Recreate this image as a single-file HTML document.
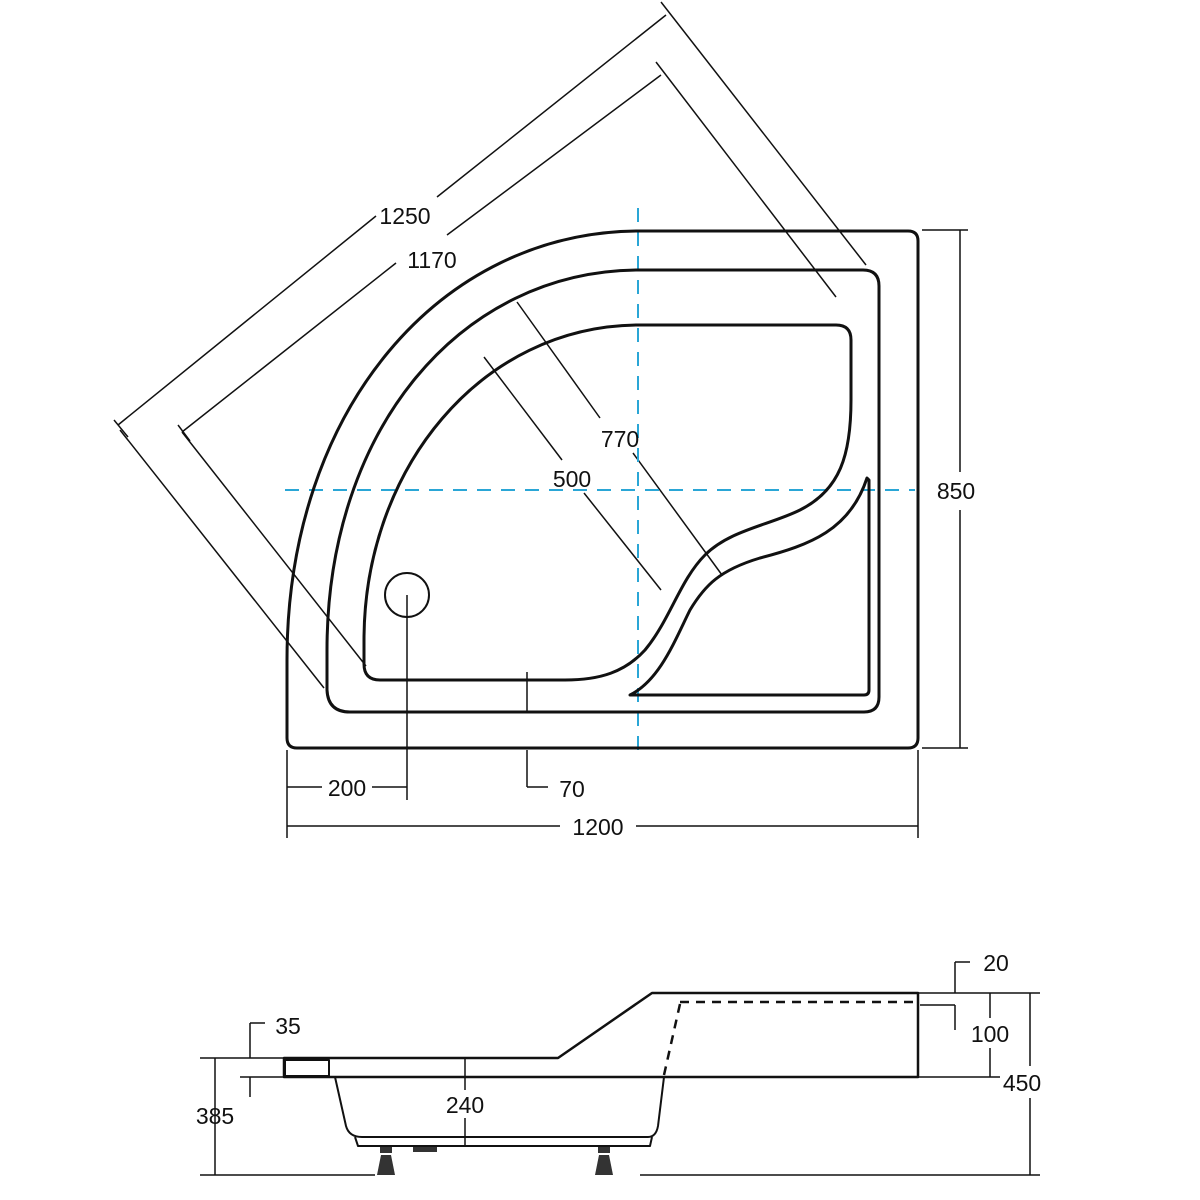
<!DOCTYPE html>
<html><head><meta charset="utf-8"><style>
html,body{margin:0;padding:0;background:#fff}
svg{display:block}
text{font-family:"Liberation Sans",Arial,sans-serif;font-size:23px;fill:#111}
</style></head><body>
<svg width="1200" height="1200" viewBox="0 0 1200 1200" xmlns="http://www.w3.org/2000/svg">
<g fill="none" stroke="#111" stroke-width="1.5">
<!-- 1250 dims -->
<line x1="118" y1="425" x2="376" y2="216"/>
<line x1="437" y1="197" x2="666" y2="15"/>
<line x1="661" y1="2" x2="866" y2="265"/>
<line x1="120" y1="430" x2="324" y2="688"/>
<line x1="114" y1="420" x2="128" y2="437"/>
<!-- 1170 -->
<line x1="182" y1="432" x2="396" y2="263"/>
<line x1="447" y1="235" x2="661" y2="75"/>
<line x1="656" y1="62" x2="836" y2="297"/>
<line x1="182" y1="432" x2="366" y2="666"/>
<line x1="178" y1="425" x2="190" y2="441"/>
<!-- 770 -->
<line x1="517" y1="302" x2="600" y2="418"/>
<line x1="633" y1="453" x2="722" y2="575"/>
<!-- 500 -->
<line x1="484" y1="357" x2="562" y2="460"/>
<line x1="584" y1="493" x2="661" y2="590"/>
<!-- 850 -->
<line x1="922" y1="230" x2="968" y2="230"/>
<line x1="922" y1="748" x2="968" y2="748"/>
<line x1="960" y1="230" x2="960" y2="472"/>
<line x1="960" y1="510" x2="960" y2="748"/>
<!-- 1200 -->
<line x1="287" y1="750" x2="287" y2="838"/>
<line x1="918" y1="750" x2="918" y2="838"/>
<line x1="287" y1="826" x2="560" y2="826"/>
<line x1="636" y1="826" x2="918" y2="826"/>
<!-- 200 -->
<line x1="287" y1="787" x2="322" y2="787"/>
<line x1="372" y1="787" x2="407" y2="787"/>
<line x1="407" y1="595" x2="407" y2="800"/>
<!-- 70 -->
<line x1="527" y1="672" x2="527" y2="712"/>
<line x1="527" y1="750" x2="527" y2="787"/>
<line x1="527" y1="787" x2="548" y2="787"/>
</g>
<!-- blue dashed -->
<g stroke="#2aa6d6" stroke-width="2" stroke-dasharray="14,10" fill="none">
<line x1="285" y1="490" x2="915" y2="490"/>
<line x1="638" y1="208" x2="638" y2="758"/>
</g>
<g fill="none" stroke="#111" stroke-width="3" stroke-linejoin="round">
<!-- outer -->
<path d="M640,231 L908,231 Q918,231 918,241 L918,738 Q918,748 908,748 L297,748 Q287,748 287,738 L287,660 C287,410 440,231 640,231 Z"/>
<!-- rim -->
<path d="M640,270 L863,270 Q879,270 879,286 L879,697 Q879,712 864,712 L350,712 Q328,712 327,690 L327,650 C327,430 460,270 640,270 Z"/>
<!-- basin -->
<path d="M640,325 L836,325 Q851,325 851,340 L851,400 C851,455 840,490 800,510 C770,525 730,530 705,555 C680,580 670,620 645,650 C625,672 600,680 565,680 L380,680 Q364,680 364,664 L364,640 C364,470 480,325 640,325 Z"/>
<!-- seat -->
<path d="M867,478 L869,480 L869,690 Q869,695 864,695 L630,695 C660,680 675,640 690,610 C705,585 720,570 760,558 C810,545 850,530 867,478 Z"/>
</g>
<circle cx="407" cy="595" r="22" fill="none" stroke="#111" stroke-width="2"/>
<text x="405" y="224" text-anchor="middle">1250</text>
<text x="432" y="268" text-anchor="middle">1170</text>
<text x="620" y="447" text-anchor="middle">770</text>
<text x="572" y="487" text-anchor="middle">500</text>
<text x="956" y="499" text-anchor="middle">850</text>
<text x="598" y="835" text-anchor="middle">1200</text>
<text x="347" y="796" text-anchor="middle">200</text>
<text x="572" y="797" text-anchor="middle">70</text>

<!-- side view -->
<g fill="none" stroke="#111" stroke-width="1.5">
<line x1="200" y1="1058" x2="284" y2="1058"/>
<line x1="240" y1="1077" x2="284" y2="1077"/>
<line x1="215" y1="1058" x2="215" y2="1175"/>
<line x1="250" y1="1058" x2="250" y2="1023"/>
<line x1="250" y1="1023" x2="265" y2="1023"/>
<line x1="250" y1="1077" x2="250" y2="1097"/>
<line x1="465" y1="1058" x2="465" y2="1090"/>
<line x1="465" y1="1118" x2="465" y2="1145"/>
<line x1="200" y1="1175" x2="375" y2="1175"/>
<line x1="640" y1="1175" x2="1040" y2="1175"/>
<line x1="918" y1="993" x2="1040" y2="993"/>
<line x1="918" y1="1077" x2="1000" y2="1077"/>
<line x1="955" y1="993" x2="955" y2="962"/>
<line x1="955" y1="962" x2="970" y2="962"/>
<line x1="920" y1="1005" x2="955" y2="1005"/>
<line x1="955" y1="1005" x2="955" y2="1030"/>
<line x1="990" y1="993" x2="990" y2="1018"/>
<line x1="990" y1="1048" x2="990" y2="1077"/>
<line x1="1030" y1="993" x2="1030" y2="1066"/>
<line x1="1030" y1="1098" x2="1030" y2="1175"/>
</g>
<g fill="none" stroke="#111" stroke-width="2.5" stroke-linejoin="round">
<path d="M284,1058 L558,1058 L652,993 L918,993 L918,1077 L284,1077 Z"/>
<rect x="285" y="1060" width="44" height="16" stroke-width="2"/>
<path d="M335,1077 L346,1126 Q349,1137 362,1137 L648,1137 Q656,1137 658,1126 L664,1077" stroke-width="2"/>
<path d="M355,1137 L358,1146 L650,1146 L652,1137" stroke-width="2"/>
</g>
<path d="M680,1002 L915,1002" stroke="#111" stroke-width="2.5" stroke-dasharray="9,7"/>
<path d="M680,1004 L664,1075" stroke="#111" stroke-width="2.5" stroke-dasharray="9,7"/>
<g fill="#333">
<rect x="380" y="1147" width="12" height="6"/>
<path d="M381,1155 L391,1155 L395,1175 L377,1175 Z"/>
<rect x="598" y="1147" width="12" height="6"/>
<path d="M599,1155 L609,1155 L613,1175 L595,1175 Z"/>
<rect x="413" y="1147" width="24" height="5"/>
</g>
<text x="288" y="1034" text-anchor="middle">35</text>
<text x="215" y="1124" text-anchor="middle">385</text>
<text x="465" y="1113" text-anchor="middle">240</text>
<text x="996" y="971" text-anchor="middle">20</text>
<text x="990" y="1042" text-anchor="middle">100</text>
<text x="1022" y="1091" text-anchor="middle">450</text>
</svg>
</body></html>
